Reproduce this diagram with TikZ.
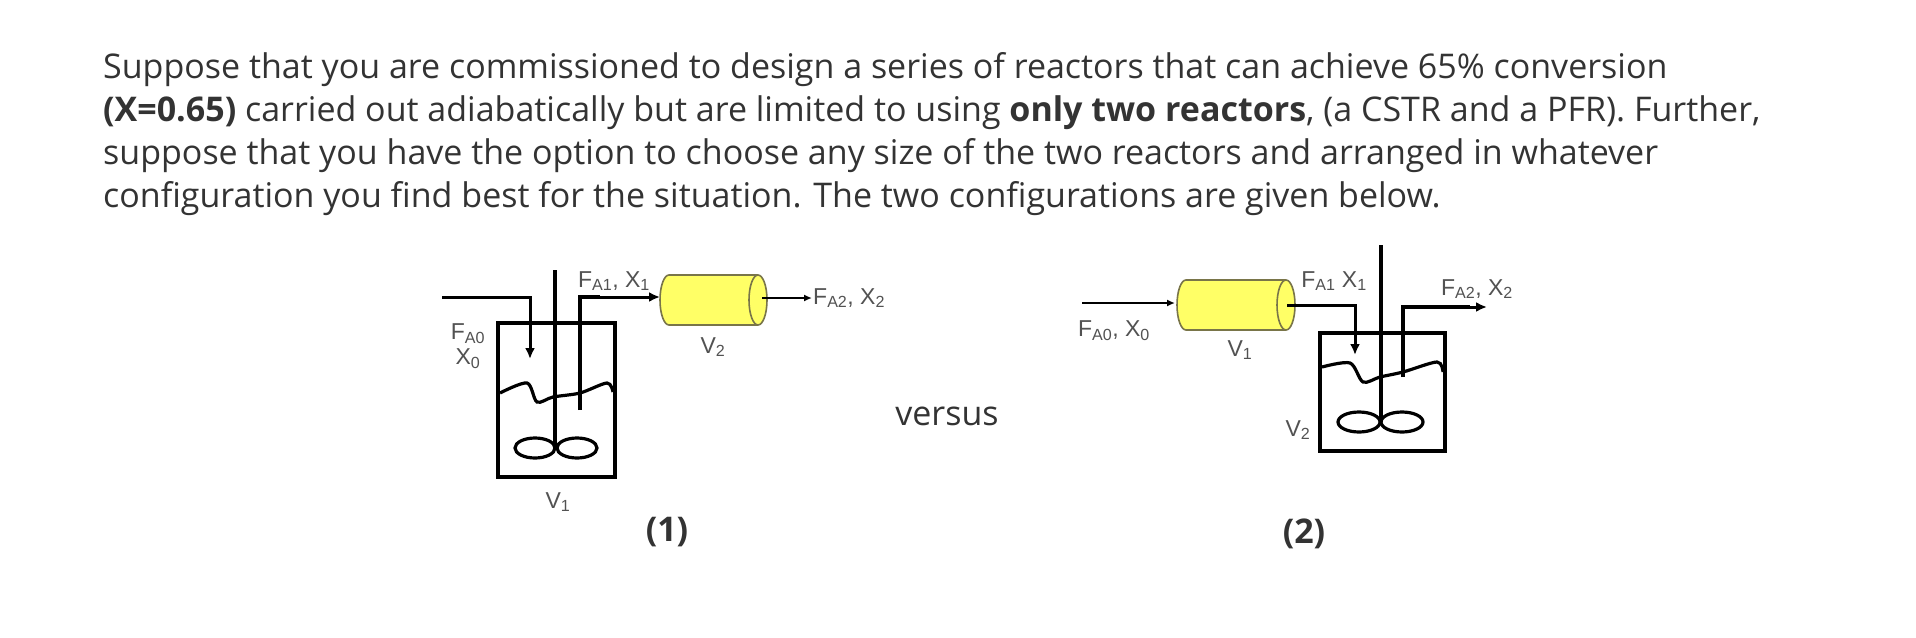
\documentclass[tikz,border=0pt]{standalone}
\usepackage{fontspec}
\setmainfont{Open Sans}
\newfontfamily\lab{Liberation Sans}
\usetikzlibrary{arrows.meta}
\definecolor{txt}{HTML}{333333}
\definecolor{pfr}{HTML}{FFFF66}
\begin{document}
\begin{tikzpicture}[x=1pt,y=-1pt,
  pipe/.style={line width=4pt},
  flow/.style={line width=3pt,-{Latex[length=11pt,width=10pt]}},
  thin flow/.style={line width=2pt,-{Latex[length=8pt,width=7pt]}},
  vessel/.style={line width=4pt},
  wave/.style={line width=3.2pt},
  pfrline/.style={draw=black!60!yellow,line width=1.6pt},
  lbl/.style={font=\lab\fontsize{23}{25}\selectfont,text=txt!85,inner sep=1pt},
  para/.style={anchor=west,font=\fontsize{34}{38}\selectfont,text=txt,inner sep=0pt}]
\useasboundingbox (0,0) rectangle (1916,637);
\fill[white] (0,0) rectangle (1916,637);
\node[para] (l1) at (103,70) {Suppose that you are commissioned to design a series of reactors that can achieve 65\% conversion};
\node[para] (l2) at (103,113) {\textbf{(X=0.65)} carried out adiabatically but are limited to using \textbf{only two reactors}, (a CSTR and a PFR). Further,};
\node[para] (l3) at (103,156) {suppose that you have the option to choose any size of the two reactors and arranged in whatever};
\node[para] (l4) at (103,199) {configuration you find best for the situation. The two configurations are given below.};
% ---------- config 1
\draw[vessel] (498,323) rectangle (615,477);
\coordinate (in1) at (442,297);
\coordinate (in1b) at (530,297);
\coordinate (in1c) at (530,359);
\draw[flow] (in1) -- (in1b) -- (in1c);
\draw[pipe] (555,270) -- (555,448);
\draw[wave] (535,448) ellipse (20 and 10);
\draw[wave] (577,448) ellipse (20 and 10);
\draw[wave] plot[smooth] coordinates {(500,393) (527,383) (537,402) (553,397) (580,393) (607,383) (613,392)};
\coordinate (o1a) at (580,410);
\coordinate (o1b) at (580,297);
\draw[pipe] (o1a) -- (o1b) -- (600,297);
\filldraw[fill=pfr,pfrline] (669,300) ellipse (9 and 25);
\fill[pfr] (669,275) rectangle (758,325);
\draw[pfrline] (669,275) -- (758,275) (669,325) -- (758,325);
\filldraw[fill=pfr,pfrline] (758,300) ellipse (9 and 25);
\coordinate (pfr1in) at (660,297);
\coordinate (pfr1out) at (762,298);
\draw[flow] (598,297) -- (pfr1in);
\coordinate (out1) at (812,298);
\draw[thin flow] (pfr1out) -- (out1);
\node[lbl,anchor=west] (fa2) at (out1) {F\textsubscript{A2}, X\textsubscript{2}};
\node[lbl] (fa1) at (614,281) {F\textsubscript{A1}, X\textsubscript{1}};
\node[lbl] (v2a) at (713,347) {V\textsubscript{2}};
\node[lbl,align=center] (fa0) at (468,346) {F\textsubscript{A0}\\X\textsubscript{0}};
\node[lbl] (v1a) at (558,502) {V\textsubscript{1}};
\node[font=\bfseries\fontsize{34}{38}\selectfont,text=txt] (c1) at (667,532) {(1)};
\node[font=\fontsize{34}{38}\selectfont,text=txt] (vs) at (947,416) {versus};
% ---------- config 2
\coordinate (in2) at (1082,303);
\coordinate (pfr2in) at (1175,303);
\draw[thin flow] (in2) -- (pfr2in);
\filldraw[fill=pfr,pfrline] (1186,305) ellipse (9 and 25);
\fill[pfr] (1186,280) rectangle (1286,330);
\draw[pfrline] (1186,280) -- (1286,280) (1186,330) -- (1286,330);
\filldraw[fill=pfr,pfrline] (1286,305) ellipse (9 and 25);
\coordinate (pfr2out) at (1287,305);
\coordinate (p2b) at (1355,305);
\coordinate (p2c) at (1355,355);
\draw[flow] (pfr2out) -- (p2b) -- (p2c);
\draw[vessel] (1320,333) rectangle (1445,451);
\draw[pipe] (1381,245) -- (1381,422);
\draw[wave] (1359,422) ellipse (21 and 10);
\draw[wave] (1402,422) ellipse (21 and 10);
\draw[wave] plot[smooth] coordinates {(1322,367) (1350,363) (1363,382) (1380,377) (1403,372) (1437,362) (1443,372)};
\coordinate (o2a) at (1403,377);
\coordinate (o2b) at (1403,307);
\coordinate (out2) at (1487,307);
\draw[pipe] (o2a) -- (o2b) -- (1470,307);
\draw[flow] (1468,307) -- (out2);
\node[lbl] (fa1b) at (1334,281) {F\textsubscript{A1} X\textsubscript{1}};
\node[lbl] (fa2b) at (1477,289) {F\textsubscript{A2}, X\textsubscript{2}};
\node[lbl] (fa0b) at (1114,331) {F\textsubscript{A0}, X\textsubscript{0}};
\node[lbl] (v1b) at (1240,350) {V\textsubscript{1}};
\node[lbl] (v2b) at (1298,430) {V\textsubscript{2}};
\node[font=\bfseries\fontsize{34}{38}\selectfont,text=txt] (c2) at (1304,534) {(2)};
\end{tikzpicture}
\end{document}
